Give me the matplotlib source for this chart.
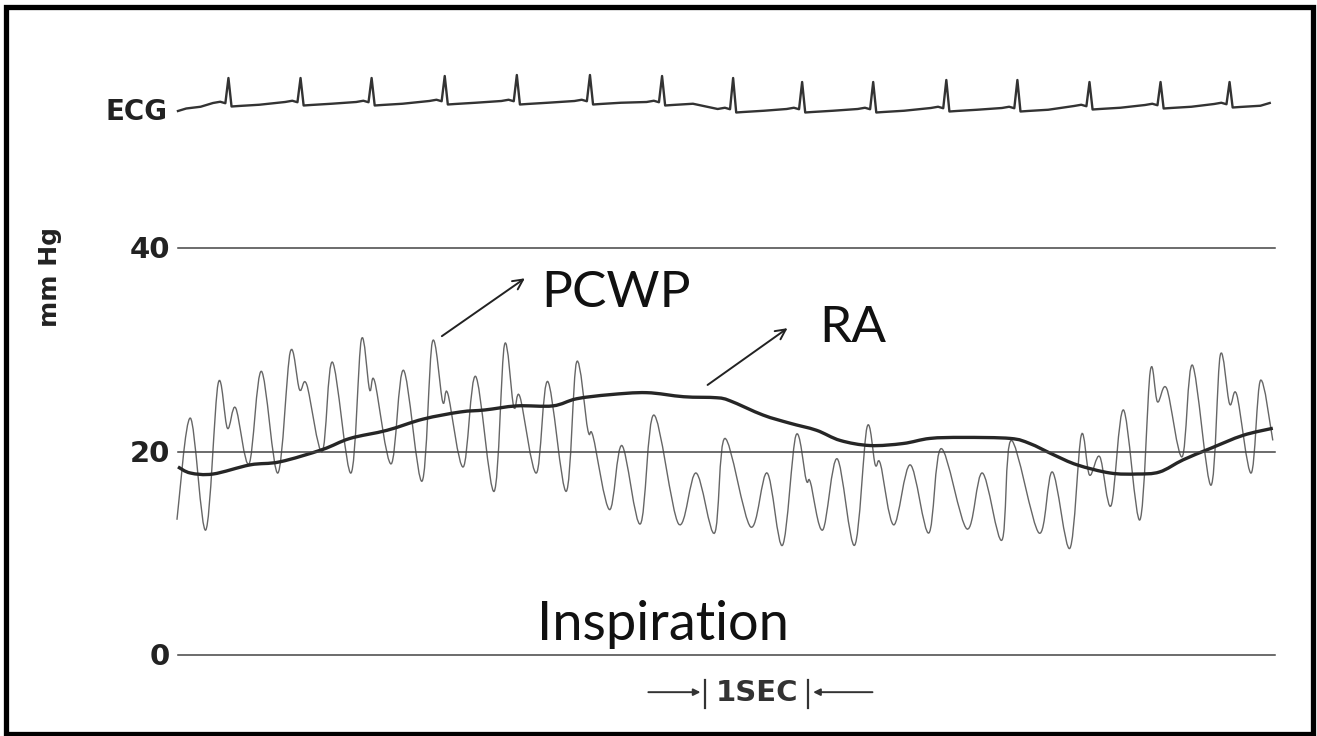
import matplotlib.pyplot as plt
from matplotlib.patches import Rectangle, PathPatch
from matplotlib.path import Path

# PCWP trace, time in seconds, pressure in mm Hg
pcwp_t = [-0.03, 0.10, 0.25, 0.37, 0.46, 0.54, 0.67, 0.79, 0.95, 1.07, 1.16, 1.23,
          1.38, 1.48, 1.66, 1.76, 1.84, 1.89, 2.05, 2.17, 2.35, 2.45, 2.55, 2.60,
          2.75, 2.87, 3.05, 3.15, 3.24, 3.30, 3.46, 3.57, 3.75, 3.85, 3.96, 4.01,
          4.17, 4.29, 4.47, 4.60, 4.84, 5.01, 5.19, 5.29, 5.54, 5.70, 5.85, 5.98,
          6.08, 6.12, 6.24, 6.38, 6.55, 6.67, 6.75, 6.80, 6.93, 7.09, 7.27, 7.39,
          7.64, 7.79, 7.98, 8.07, 8.34, 8.47, 8.64, 8.75, 8.83, 8.93, 9.04, 9.16,
          9.32, 9.42, 9.49, 9.58, 9.73, 9.83, 10.01, 10.10, 10.19, 10.26, 10.40,
          10.49, 10.61]
pcwp_p = [13.3, 23.3, 12.3, 26.7, 22.3, 24.3, 18.8, 27.9, 17.9, 29.8, 26.1, 26.6,
          20.0, 28.8, 17.9, 31.0, 26.1, 26.9, 18.8, 28.0, 17.1, 30.8, 24.9, 25.7,
          18.5, 27.4, 16.1, 30.5, 24.4, 25.4, 17.9, 26.9, 16.1, 28.8, 22.1, 21.5,
          14.3, 20.6, 12.9, 23.6, 12.9, 17.9, 12.0, 21.3, 12.6, 17.9, 10.8, 21.6,
          17.2, 17.0, 12.3, 19.3, 10.8, 22.4, 18.7, 18.8, 12.8, 18.7, 12.0, 20.3,
          12.4, 17.9, 11.3, 21.1, 12.0, 18.0, 10.5, 21.6, 17.7, 19.5, 14.7, 24.1,
          13.3, 27.9, 24.9, 26.2, 19.5, 28.5, 16.7, 29.5, 24.7, 25.6, 17.9,
          27.0, 21.1]

# RA trace
ra_t = [-0.02, 0.10, 0.32, 0.68, 0.97, 1.38, 1.65, 2.01, 2.36, 2.72, 2.96, 3.27,
        3.62, 3.85, 4.17, 4.53, 4.89, 5.21, 5.34, 5.66, 5.92, 6.18, 6.41, 6.70,
        7.02, 7.28, 7.60, 8.06, 8.25, 8.48, 8.71, 9.03, 9.29, 9.51, 9.74, 10.00,
        10.32, 10.61]
ra_p = [18.5, 17.9, 17.8, 18.7, 19.0, 20.2, 21.3, 22.1, 23.2, 23.9, 24.1, 24.5,
        24.5, 25.2, 25.6, 25.8, 25.4, 25.3, 25.0, 23.6, 22.8, 22.1, 21.1, 20.6,
        20.8, 21.3, 21.4, 21.3, 20.8, 19.7, 18.7, 17.9, 17.8, 18.0, 19.2, 20.3,
        21.6, 22.3]

# ECG beats: R wave time, R height (mV), baseline level (mV)
r_times = [0.47, 1.17, 1.86, 2.57, 3.27, 3.98, 4.68, 5.37, 6.04, 6.73, 7.44,
           8.13, 8.83, 9.52, 10.19]
r_tops = [1.2, 1.2, 1.2, 1.28, 1.32, 1.32, 1.28, 1.2, 1.04, 1.04, 1.12, 1.12,
          1.04, 1.04, 1.04]
r_bases = [0.16, 0.2, 0.2, 0.24, 0.24, 0.24, 0.2, -0.08, -0.08, -0.08, -0.04,
           -0.04, 0.04, 0.08, 0.12]
# shape of one complex around the R wave (offset s, level above baseline)
wave_dt = [-0.15, -0.08, -0.03, 0.03, 0.1, 0.3]
wave_dv = [0.04, 0.09, 0.03, -0.1, -0.08, -0.03]

grid_levels = [0, 20, 40]
grid_labels = ['0', '20', '40']
sec_start, sec_end = 5.1, 6.1


def smooth_path(xs, ys):
    # bezier curve through every reading (catmull-rom tangents)
    verts = [(xs[0], ys[0])]
    codes = [Path.MOVETO]
    n = len(xs)
    for i in range(n - 1):
        j0 = max(i - 1, 0)
        j3 = min(i + 2, n - 1)
        x0, y0 = xs[j0], ys[j0]
        x1, y1 = xs[i], ys[i]
        x2, y2 = xs[i + 1], ys[i + 1]
        x3, y3 = xs[j3], ys[j3]
        verts.append((x1 + (x2 - x0) / 6, y1 + (y2 - y0) / 6))
        verts.append((x2 - (x3 - x1) / 6, y2 - (y3 - y1) / 6))
        verts.append((x2, y2))
        codes += [Path.CURVE4] * 3
    return Path(verts, codes)


fig = plt.figure(figsize=(13.17, 7.36), dpi=100)
ax = fig.add_axes([0, 0, 1, 1])
ax.set_xlim(-1.748, 11.039)
ax.set_ylim(-7.96, 64.41)
ax.axis('off')

for lev, lab in zip(grid_levels, grid_labels):
    ax.plot([-0.02, 10.63], [lev, lev], color='#444444', lw=1.1)
    ax.text(-0.1, lev - 0.2, lab, ha='right', va='center', fontsize=21,
            fontweight='bold', color='#222222')

ax.add_patch(PathPatch(smooth_path(pcwp_t, pcwp_p), fill=False,
                       edgecolor='#666666', lw=1.0))
ax.add_patch(PathPatch(smooth_path(ra_t, ra_p), fill=False,
                       edgecolor='#262626', lw=2.4))

ax.text(-1.262, 37.2, 'mm Hg', rotation=90, ha='center', va='center',
        fontsize=18, fontweight='bold', color='#222222')

ax.text(4.23, 34.2, 'PCWP', fontsize=37, family='Lato', ha='center',
        va='baseline', color='#111111')
ax.text(6.53, 30.8, 'RA', fontsize=37, family='Lato', ha='center',
        va='baseline', color='#111111')
ax.text(3.47, 1.45, 'Inspiration', fontsize=39, family='Lato', ha='left',
        va='baseline', color='#111111')

arrow = dict(arrowstyle='->', lw=1.4, color='#222222', mutation_scale=18)
ax.annotate('', xy=(3.37, 37.2), xytext=(2.52, 31.2), arrowprops=arrow)
ax.annotate('', xy=(5.92, 32.3), xytext=(5.10, 26.4), arrowprops=arrow)

# 1 second marker
ax.plot([sec_start, sec_start], [-2.5, -5.2], color='#333333', lw=1.6)
ax.plot([sec_end, sec_end], [-2.5, -5.2], color='#333333', lw=1.6)
ax.annotate('', xy=(sec_start - 0.02, -3.65), xytext=(sec_start - 0.58, -3.65),
            arrowprops=dict(arrowstyle='-|>', lw=1.4, color='#333333',
                            mutation_scale=10))
ax.annotate('', xy=(sec_end + 0.02, -3.65), xytext=(sec_end + 0.65, -3.65),
            arrowprops=dict(arrowstyle='-|>', lw=1.4, color='#333333',
                            mutation_scale=10))
ax.text((sec_start + sec_end) / 2, -3.7, '1SEC', ha='center', va='center',
        fontsize=21, fontweight='bold', color='#333333')

# ECG strip
ax2 = fig.add_axes([0, 0.8193, 1, 0.1019])
ax2.set_xlim(-1.748, 11.039)
ax2.set_ylim(-1.0, 2.0)
ax2.axis('off')

ecg_t = [-0.02, 0.06, 0.2]
ecg_v = [-0.12, -0.02, 0.05]
for r, top, base in zip(r_times, r_tops, r_bases):
    for dt, dv in zip(wave_dt[:3], wave_dv[:3]):
        ecg_t.append(r + dt)
        ecg_v.append(base + dv)
    ecg_t.append(r)
    ecg_v.append(top)
    for dt, dv in zip(wave_dt[3:], wave_dv[3:]):
        ecg_t.append(r + dt)
        ecg_v.append(base + dv)
ecg_t.append(10.58)
ecg_v.append(0.2)
ax2.plot(ecg_t, ecg_v, color='#333333', lw=1.7)
ax2.text(-0.12, -0.15, 'ECG', ha='right', va='center', fontsize=20,
         fontweight='bold', color='#222222')

fig.patches.append(Rectangle((0.0046, 0.0027), 0.9924, 0.9878, fill=False,
                             lw=3.8, edgecolor='black',
                             transform=fig.transFigure, figure=fig))

fig.savefig('out.png', dpi=100)
